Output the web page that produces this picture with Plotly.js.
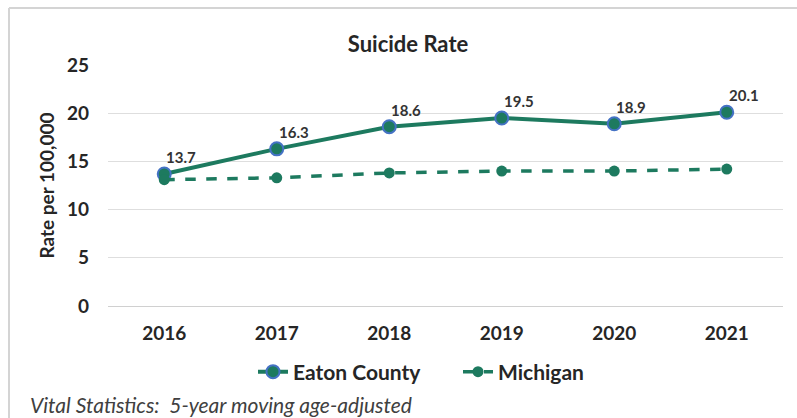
<!DOCTYPE html>
<html>
<head>
<meta charset="utf-8">
<script src="https://cdn.plot.ly/plotly-3.0.1.min.js"></script>
<style>
  html, body { margin: 0; padding: 0; background: #ffffff; }
  #chart { width: 797px; height: 418px; }
</style>
</head>
<body>
<div id="chart"></div>
<script>
const years = ["2016", "2017", "2018", "2019", "2020", "2021"];
const eatonCounty = [13.7, 16.3, 18.6, 19.5, 18.9, 20.1];
const michigan = [13.1, 13.3, 13.8, 14.0, 14.0, 14.2];
const yTicks = [0, 5, 10, 15, 20, 25];

const green = "#1d7a5f";
const fontFam = "Lato, 'Open Sans', sans-serif";

const traces = [
  {
    x: years, y: eatonCounty, name: "Eaton County",
    type: "scatter", mode: "lines+markers",
    line: { color: green, width: 4 },
    marker: { color: green, size: 13, line: { color: "#4472c4", width: 2 } },
    cliponaxis: false
  },
  {
    x: years, y: michigan, name: "Michigan",
    type: "scatter", mode: "lines+markers",
    line: { color: green, width: 3.5, dash: "dash" },
    marker: { color: green, size: 11 },
    cliponaxis: false
  }
];

// category index positions for the value labels
const labelAnnotations = years.map((yr, i) => ({
  x: i, y: eatonCounty[i], xref: "x", yref: "y",
  text: "<b>" + eatonCounty[i].toFixed(1) + "</b>",
  showarrow: false, xanchor: "left", yanchor: "bottom",
  xshift: 0, yshift: 6,
  font: { family: fontFam, size: 15, color: "#333333" }
}));

const layout = {
  width: 797, height: 418,
  margin: { l: 108, r: 14, t: 65, b: 112 },
  paper_bgcolor: "#ffffff", plot_bgcolor: "#ffffff",
  font: { family: fontFam, color: "#262626" },
  title: {
    text: "<b>Suicide Rate</b>",
    xref: "container", x: 408 / 797, xanchor: "center",
    yref: "container", y: 1 - 44 / 418, yanchor: "middle",
    font: { family: fontFam, size: 22, color: "#262626" }
  },
  xaxis: {
    type: "category", range: [-0.5, 5.5],
    showgrid: false, showline: true, linecolor: "#d0d0d0", linewidth: 1,
    ticks: "", ticklabelstandoff: 10,
    tickfont: { family: fontFam, size: 19, color: "#262626", weight: "bold" },
    fixedrange: true
  },
  yaxis: {
    range: [0, 25], tickvals: yTicks, ticktext: yTicks.map(String),
    showgrid: true, gridcolor: "#dedede", gridwidth: 1,
    zeroline: false, showline: false, ticks: "", ticklabelstandoff: 18,
    tickfont: { family: fontFam, size: 19, color: "#262626", weight: "bold" },
    title: {
      text: "<b>Rate per 100,000</b>", standoff: 7,
      font: { family: fontFam, size: 19, color: "#262626" }
    },
    fixedrange: true
  },
  showlegend: true,
  legend: {
    orientation: "h",
    xref: "container", x: 253 / 797, xanchor: "left",
    yref: "container", y: 1 - 372 / 418, yanchor: "middle",
    entrywidth: 160, entrywidthmode: "pixels",
    font: { family: fontFam, size: 21, color: "#262626", weight: "bold" },
    traceorder: "normal"
  },
  annotations: labelAnnotations.concat([
    {
      text: "<i>Vital Statistics:  5-year moving age-adjusted</i>",
      xref: "paper", yref: "paper",
      x: (28 - 108) / 675, xanchor: "left",
      y: (306 - 405) / 241, yanchor: "middle",
      showarrow: false,
      font: { family: fontFam, size: 21, color: "#404040" }
    }
  ]),
  shapes: [
    { type: "line", xref: "paper", yref: "paper",
      x0: (9 - 108) / 675, x1: (800 - 108) / 675,
      y0: (306 - 8) / 241, y1: (306 - 8) / 241,
      line: { color: "#d4d4d4", width: 2 } },
    { type: "line", xref: "paper", yref: "paper",
      x0: (9 - 108) / 675, x1: (9 - 108) / 675,
      y0: (306 - 8) / 241, y1: (306 - 420) / 241,
      line: { color: "#d4d4d4", width: 2 } }
  ]
};

Plotly.newPlot("chart", traces, layout, { displayModeBar: false, staticPlot: true });
</script>
</body>
</html>
